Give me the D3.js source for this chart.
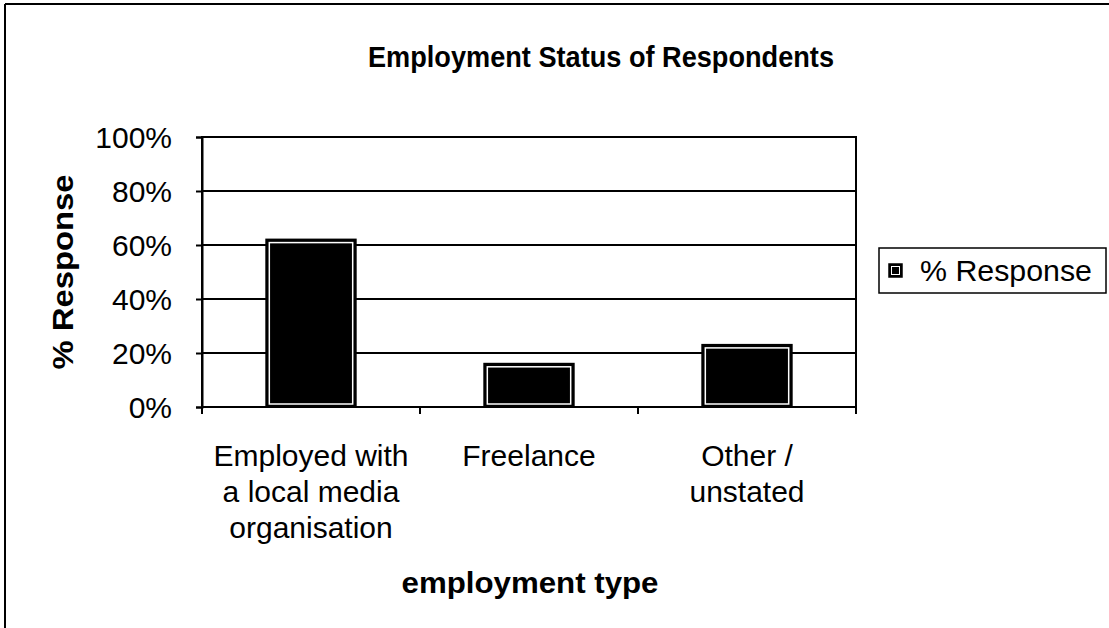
<!DOCTYPE html>
<html><head><meta charset="utf-8">
<script src="https://cdn.jsdelivr.net/npm/d3@7"></script>
<style>body{margin:0;background:#fff}svg{display:block}text{font-family:"Liberation Sans",Arial,sans-serif;fill:#000}</style>
</head><body><svg id="c" width="1109" height="628"></svg>
<script>
const categories = [["Employed with","a local media","organisation"],["Freelance"],["Other /","unstated"]];
const values = [0.62, 0.16, 0.23];
const yTicks = [0,0.2,0.4,0.6,0.8,1.0];
const seriesName = "% Response";

const svg = d3.select("#c");
const L=202,R=856,T=137,B=407;
// outer frame
svg.append("line").attr("x1",5).attr("x2",1109).attr("y1",4).attr("y2",4).attr("stroke","#000").attr("stroke-width",2);
svg.append("line").attr("x1",5).attr("x2",5).attr("y1",4).attr("y2",628).attr("stroke","#000").attr("stroke-width",2);

const x = d3.scaleBand().domain(d3.range(categories.length)).range([L,R]).paddingInner(0.59).paddingOuter(0.295);
const xc = d3.scaleBand().domain(d3.range(categories.length)).range([L,R]);
const y = d3.scaleLinear().domain([0,1]).range([B,T]);

// gridlines
svg.append("g").selectAll("line").data(yTicks).join("line")
 .attr("x1",L).attr("x2",R).attr("y1",d=>y(d)).attr("y2",d=>y(d)).attr("stroke","#000").attr("stroke-width",2);
// plot border
svg.append("rect").attr("x",L).attr("y",T).attr("width",R-L).attr("height",B-T).attr("fill","none").attr("stroke","#000").attr("stroke-width",2);

// y axis
const ya = d3.axisLeft(y).tickValues(yTicks).tickFormat(d3.format(".0%")).tickSize(6).tickPadding(24);
const gy = svg.append("g").attr("transform",`translate(${L},0)`).call(ya);
gy.select(".domain").attr("stroke-width",2);
gy.selectAll(".tick line").attr("stroke-width",2);
gy.selectAll("text").style("font-size","30px").attr("dy","0.36em");

// x axis ticks at category boundaries
svg.append("g").selectAll("line").data(d3.range(categories.length+1)).join("line")
 .attr("x1",i=>L+i*xc.step()).attr("x2",i=>L+i*xc.step()).attr("y1",B).attr("y2",B+7).attr("stroke","#000").attr("stroke-width",2);

// bars
const bars = svg.append("g").selectAll("g").data(values).join("g");
bars.append("rect").attr("x",(d,i)=>x(i)).attr("y",d=>y(d)).attr("width",x.bandwidth()).attr("height",d=>B-y(d))
 .attr("fill","#000").attr("stroke","#000").attr("stroke-width",2);
bars.append("rect").attr("x",(d,i)=>x(i)+3).attr("y",d=>y(d)+3).attr("width",x.bandwidth()-6).attr("height",d=>B-y(d)-6)
 .attr("fill","none").attr("stroke","#fff").attr("stroke-width",1.5);

// category labels
const cl = svg.append("g").selectAll("text").data(categories).join("text")
 .attr("text-anchor","middle").attr("x",(d,i)=>xc(i)+xc.bandwidth()/2).attr("y",466).style("font-size","30px");
cl.selectAll("tspan").data(d=>d).join("tspan").attr("x",function(){return this.parentNode.getAttribute("x")}).attr("dy",(d,i)=>i?36:0).text(d=>d);

// titles
svg.append("text").attr("x",601).attr("y",67).attr("text-anchor","middle").style("font-size","29px").style("font-weight","bold")
 .attr("textLength",466).attr("lengthAdjust","spacingAndGlyphs").text("Employment Status of Respondents");
svg.append("text").attr("x",530).attr("y",593).attr("text-anchor","middle").style("font-size","30px").style("font-weight","bold")
 .attr("textLength",257).attr("lengthAdjust","spacingAndGlyphs").text("employment type");
svg.append("text").attr("transform","translate(73,272) rotate(-90)").attr("text-anchor","middle").style("font-size","30px").style("font-weight","bold")
 .attr("textLength",195).attr("lengthAdjust","spacingAndGlyphs").text("% Response");

// legend
const lg = svg.append("g");
lg.append("rect").attr("x",879).attr("y",248).attr("width",227).attr("height",45).attr("fill","#fff").attr("stroke","#000").attr("stroke-width",1.5);
lg.append("rect").attr("x",889).attr("y",264).attr("width",13).attr("height",13).attr("fill","#000").attr("stroke","#000").attr("stroke-width",1.5);
lg.append("rect").attr("x",891.5).attr("y",266.5).attr("width",8).attr("height",8).attr("fill","none").attr("stroke","#fff").attr("stroke-width",1);
lg.append("text").attr("x",920).attr("y",281).style("font-size","30px").attr("textLength",172).attr("lengthAdjust","spacingAndGlyphs").text(seriesName);
</script></body></html>
